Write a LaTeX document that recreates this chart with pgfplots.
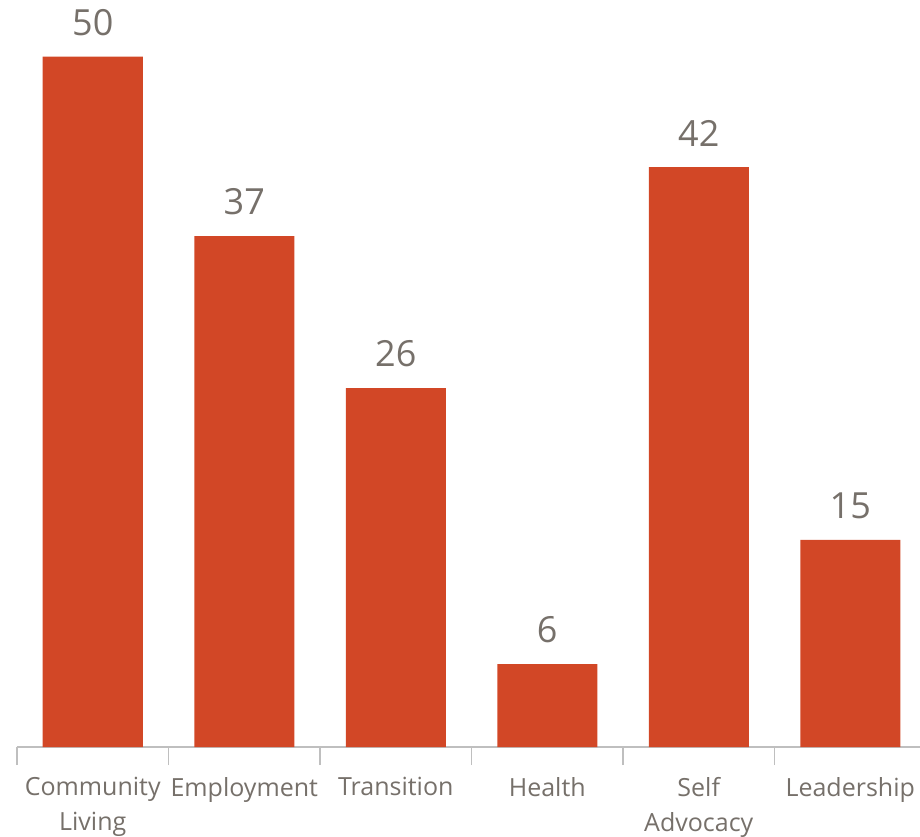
\documentclass[border=0pt]{standalone}
\usepackage{pgfplots}
\pgfplotsset{compat=1.18}
\usepackage{fontspec}
\setmainfont{Open Sans}
\definecolor{bar}{RGB}{210,71,38}
\definecolor{txt}{RGB}{118,112,106}
\definecolor{axl}{RGB}{191,191,191}
\begin{document}
\begin{tikzpicture}
\begin{axis}[
    width=454.5pt, height=373.5pt, scale only axis,
    ybar, bar width=50pt,
    ymin=0, ymax=54.1,
    xmin=-0.5, xmax=5.5,
    axis y line=none,
    axis x line*=bottom,
    axis line style={axl, line width=0.8pt, -},
    xtick={0,...,5},
    xticklabels={{Community\\Living},Employment,Transition,Health,{Self\\Advocacy},Leadership},
    x tick label style={font=\fontsize{12.5}{17.5}\selectfont, text=txt, align=center, anchor=north, yshift=-11.5pt},
    extra x ticks={-0.5,0.5,1.5,2.5,3.5,4.5,5.5},
    extra x tick labels={},
    extra x tick style={major tick length=9pt, tick style={axl, line width=0.8pt}, tick align=outside},
    major tick length=0pt,
    nodes near coords,
    every node near coord/.append style={font=\fontsize{18}{20}\selectfont, text=txt, yshift=7pt},
    /pgf/number format/assume math mode=true,
]
\addplot[fill=bar, draw=none] coordinates {(0,50) (1,37) (2,26) (3,6) (4,42) (5,15)};
\end{axis}
\pgfresetboundingbox
\path[use as bounding box] (current axis.south west) ++(-8.5pt,-44.5pt) rectangle ([xshift=-3pt]current axis.north east);
\end{tikzpicture}
\end{document}
